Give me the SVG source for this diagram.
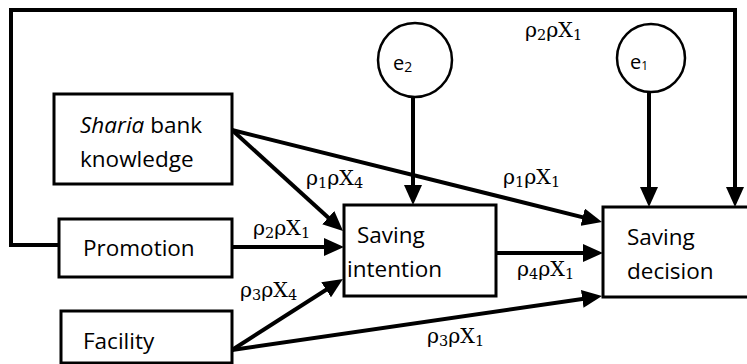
<svg xmlns="http://www.w3.org/2000/svg" width="747" height="364" viewBox="0 0 747 364">
  <style>
    .box { fill: #fff; stroke: #000; stroke-width: 3; }
    .err { fill: #fff; stroke: #000; stroke-width: 2.5; }
    .lbl { font-family: "Open Sans", "Noto Sans", sans-serif; font-size: 22.5px; fill: #000; }
    .el { font-family: "Open Sans", "Noto Sans", sans-serif; font-size: 20px; fill: #000; }
    .coef { font-family: "DejaVu Serif", "Liberation Serif", serif; font-size: 20.5px; fill: #000; }
    .sub { font-size: 14.5px; }
    .conn { fill: none; stroke: #000; stroke-width: 4; }
  </style>
  <defs>
    <marker id="arrow" markerUnits="userSpaceOnUse" markerWidth="20" markerHeight="18" refX="14" refY="9" orient="auto">
      <path d="M0,0 L20,9 L0,18 z" fill="#000"/>
    </marker>
  </defs>

  <!-- connectors -->
  <g id="connectors">
    <polyline class="conn" points="59,245 11,245 11,10 735,10 735,201" marker-end="url(#arrow)"/>
    <line class="conn" x1="413" y1="97" x2="413" y2="199" marker-end="url(#arrow)"/>
    <line class="conn" x1="649" y1="93" x2="649" y2="201" marker-end="url(#arrow)"/>
    <line class="conn" x1="232" y1="130" x2="596.2" y2="220.6" marker-end="url(#arrow)"/>
    <line class="conn" x1="232" y1="130" x2="338.6" y2="227" marker-end="url(#arrow)"/>
    <line class="conn" x1="232" y1="247" x2="338" y2="247" marker-end="url(#arrow)"/>
    <line class="conn" x1="232" y1="350" x2="337.9" y2="282.2" marker-end="url(#arrow)"/>
    <line class="conn" x1="232" y1="350" x2="596.1" y2="296.9" marker-end="url(#arrow)"/>
    <line class="conn" x1="496" y1="253" x2="597" y2="253" marker-end="url(#arrow)"/>
  </g>

  <!-- path coefficients -->
  <g id="coefficients" class="coef">
    <text x="525" y="37">ρ<tspan class="sub" dy="3">2</tspan><tspan dy="-3">ρX</tspan><tspan class="sub" dy="3">1</tspan></text>
    <text x="306" y="185">ρ<tspan class="sub" dy="3">1</tspan><tspan dy="-3">ρX</tspan><tspan class="sub" dy="3">4</tspan></text>
    <text x="503" y="184">ρ<tspan class="sub" dy="3">1</tspan><tspan dy="-3">ρX</tspan><tspan class="sub" dy="3">1</tspan></text>
    <text x="253" y="235">ρ<tspan class="sub" dy="3">2</tspan><tspan dy="-3">ρX</tspan><tspan class="sub" dy="3">1</tspan></text>
    <text x="240" y="297">ρ<tspan class="sub" dy="3">3</tspan><tspan dy="-3">ρX</tspan><tspan class="sub" dy="3">4</tspan></text>
    <text x="517" y="276">ρ<tspan class="sub" dy="3">4</tspan><tspan dy="-3">ρX</tspan><tspan class="sub" dy="3">1</tspan></text>
    <text x="427" y="343">ρ<tspan class="sub" dy="3">3</tspan><tspan dy="-3">ρX</tspan><tspan class="sub" dy="3">1</tspan></text>
  </g>

  <!-- error terms -->
  <g id="e2">
    <circle class="err" cx="415" cy="60" r="37"/>
    <text class="el" x="393" y="70">e<tspan font-size="14" dy="2">2</tspan></text>
  </g>
  <g id="e1">
    <circle class="err" cx="651" cy="58" r="34"/>
    <text class="el" x="630" y="69">e<tspan font-size="12" dy="1">1</tspan></text>
  </g>

  <!-- variables -->
  <g id="sharia-knowledge">
    <rect class="box" x="54" y="94" width="178" height="90"/>
    <text class="lbl" x="80" y="133"><tspan font-style="italic">Sharia</tspan> bank</text>
    <text class="lbl" x="80" y="167">knowledge</text>
  </g>
  <g id="promotion">
    <rect class="box" x="59" y="219" width="173" height="58"/>
    <text class="lbl" x="83" y="256">Promotion</text>
  </g>
  <g id="facility">
    <rect class="box" x="61" y="311" width="171" height="52"/>
    <text class="lbl" x="83" y="349">Facility</text>
  </g>
  <g id="saving-intention">
    <rect class="box" x="344" y="205" width="152" height="91"/>
    <text class="lbl" x="357" y="243">Saving</text>
    <text class="lbl" x="347" y="277">intention</text>
  </g>
  <g id="saving-decision">
    <rect class="box" x="603" y="207" width="150" height="90"/>
    <text class="lbl" x="627" y="245">Saving</text>
    <text class="lbl" x="627" y="279">decision</text>
  </g>
</svg>
